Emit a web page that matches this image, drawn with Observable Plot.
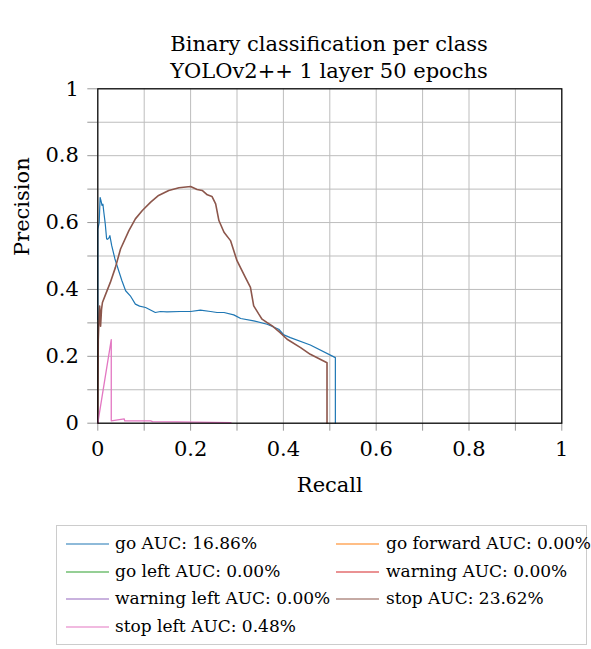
<!DOCTYPE html>
<html>
<head>
<meta charset="utf-8">
<script src="https://cdn.jsdelivr.net/npm/d3@7"></script>
<script src="https://cdn.jsdelivr.net/npm/@observablehq/plot@0.6"></script>
<style>
  body { margin: 0; background: #fff; font-family: "DejaVu Serif", serif; color: #000; }
  #wrap { position: relative; width: 591px; height: 649px; overflow: hidden; }
  #title { position: absolute; left: 97px; width: 464px; top: 31px; text-align: center;
           font-size: 21px; line-height: 27px; }
  #chart { position: absolute; left: 0; top: 60px; }
  #legend { position: absolute; left: 56px; top: 525px; width: 531px; height: 120px;
            border: 1px solid #cccccc; box-sizing: border-box; }
  .lg-sw { position: absolute; }
  .lg-text { position: absolute; font-size: 17px; white-space: nowrap; line-height: 20px; }
</style>
</head>
<body>
<div id="wrap">
  <div id="title"></div>
  <div id="chart"></div>
  <div id="legend"></div>
</div>
<script>
// ---------- data ----------
const titleLines = ["Binary classification per class", "YOLOv2++ 1 layer 50 epochs"];
const xLabel = "Recall";
const yLabel = "Precision";

const majorTicks = [0, 0.2, 0.4, 0.6, 0.8, 1];
const majorTickLabels = ["0", "0.2", "0.4", "0.6", "0.8", "1"];
const minorTicks = [0.1, 0.3, 0.5, 0.7, 0.9];

const seriesNames = ["go", "go forward", "go left", "warning", "warning left", "stop", "stop left"];
const seriesAUC = ["16.86%", "0.00%", "0.00%", "0.00%", "0.00%", "23.62%", "0.48%"];
const seriesColors = ["#1f77b4", "#ff7f0e", "#2ca02c", "#d62728", "#9467bd", "#8c564b", "#e377c2"];

const goRecall    = [0, 0, 0.003, 0.005, 0.007, 0.009, 0.011, 0.013, 0.016, 0.019, 0.021, 0.024, 0.026, 0.030, 0.037, 0.045, 0.052, 0.060, 0.070, 0.081, 0.090, 0.103, 0.124, 0.135, 0.149, 0.178, 0.200, 0.221, 0.243, 0.257, 0.272, 0.293, 0.308, 0.336, 0.365, 0.390, 0.401, 0.415, 0.458, 0.512, 0.512];
const goPrecision = [0.31, 0.58, 0.60, 0.675, 0.665, 0.651, 0.655, 0.631, 0.597, 0.551, 0.550, 0.554, 0.561, 0.531, 0.491, 0.456, 0.426, 0.396, 0.381, 0.356, 0.350, 0.346, 0.331, 0.334, 0.333, 0.334, 0.334, 0.338, 0.334, 0.331, 0.331, 0.324, 0.313, 0.306, 0.296, 0.281, 0.264, 0.256, 0.234, 0.196, 0];

const goForwardRecall = [0];
const goForwardPrecision = [0];
const goLeftRecall = [0];
const goLeftPrecision = [0];
const warningRecall = [0];
const warningPrecision = [0];
const warningLeftRecall = [0];
const warningLeftPrecision = [0];

const stopRecall    = [0, 0.001, 0.003, 0.004, 0.005, 0.006, 0.008, 0.010, 0.017, 0.027, 0.038, 0.049, 0.067, 0.081, 0.096, 0.114, 0.131, 0.153, 0.175, 0.200, 0.214, 0.225, 0.236, 0.246, 0.254, 0.261, 0.272, 0.286, 0.300, 0.318, 0.329, 0.336, 0.347, 0.354, 0.365, 0.376, 0.393, 0.408, 0.437, 0.458, 0.494, 0.494];
const stopPrecision = [0, 0.25, 0.33, 0.35, 0.32, 0.29, 0.34, 0.361, 0.386, 0.421, 0.466, 0.521, 0.576, 0.611, 0.636, 0.661, 0.681, 0.696, 0.704, 0.708, 0.699, 0.696, 0.683, 0.678, 0.656, 0.606, 0.571, 0.546, 0.486, 0.436, 0.406, 0.351, 0.326, 0.311, 0.301, 0.291, 0.271, 0.251, 0.226, 0.206, 0.181, 0];

const stopLeftRecall    = [0, 0.029, 0.029, 0.057, 0.058, 0.114, 0.118, 0.170, 0.287];
const stopLeftPrecision = [0, 0.250, 0.007, 0.013, 0.007, 0.007, 0.005, 0.004, 0.002];

const seriesRecall = [goRecall, goForwardRecall, goLeftRecall, warningRecall, warningLeftRecall, stopRecall, stopLeftRecall];
const seriesPrecision = [goPrecision, goForwardPrecision, goLeftPrecision, warningPrecision, warningLeftPrecision, stopPrecision, stopLeftPrecision];
const seriesWidths = [1.2, 1.5, 1.5, 1.5, 1.5, 1.6, 1.3];

// ---------- build ----------
const rows = [];
seriesNames.forEach((name, i) => {
  seriesRecall[i].forEach((r, j) => rows.push({series: name, recall: r, precision: seriesPrecision[i][j]}));
});

d3.select("#title").selectAll("div").data(titleLines).join("div").text(d => d);

const allTicks = majorTicks.concat(minorTicks);
const fmt = d => { const k = majorTicks.indexOf(d); return k >= 0 ? majorTickLabels[k] : ""; };

const lineMarks = seriesNames.map((name, i) =>
  Plot.line(rows.filter(d => d.series === name), {
    x: "recall", y: "precision", stroke: seriesColors[i], strokeWidth: seriesWidths[i],
    curve: "linear"
  })
);

const chart = Plot.plot({
  width: 591,
  height: 440,
  marginTop: 28.3,
  marginBottom: 77.3,
  marginLeft: 97.3,
  marginRight: 29.7,
  x: {domain: [0, 1]},
  y: {domain: [0, 1]},
  style: {fontFamily: "'DejaVu Serif', serif", fontSize: "21px", color: "#000", background: "transparent", overflow: "visible"},
  marks: [
    Plot.gridX(allTicks, {stroke: "#bdbdbd", strokeOpacity: 1, strokeWidth: 1}),
    Plot.gridY(allTicks, {stroke: "#bdbdbd", strokeOpacity: 1, strokeWidth: 1}),
    Plot.axisX(allTicks, {tickSize: 8, tickPadding: 10, tickFormat: fmt, stroke: "#999", label: null, fontSize: 21}),
    Plot.axisY(allTicks, {tickSize: 10, tickPadding: 9, tickFormat: fmt, stroke: "#999", label: null, fontSize: 21}),
    ...lineMarks,
    Plot.frame({stroke: "#000", strokeWidth: 1.2}),
    Plot.text([xLabel], {frameAnchor: "bottom", dy: 62, text: d => d, fontSize: 21, lineAnchor: "middle"}),
    Plot.text([yLabel], {frameAnchor: "left", dx: -76, text: d => d, fontSize: 21, rotate: -90, lineAnchor: "middle"})
  ]
});
document.getElementById("chart").appendChild(chart);

// legend
const legend = d3.select("#legend");
const rowY = [18, 46, 73, 101];
const colLineX = [9, 279];
const lineLen = 43;
const colTextX = [58, 329];
seriesNames.forEach((name, i) => {
  const col = i % 2, row = Math.floor(i / 2);
  const sw = legend.append("svg").attr("class", "lg-sw")
    .attr("width", lineLen).attr("height", 6)
    .style("left", colLineX[col] + "px").style("top", (rowY[row] - 3) + "px");
  sw.append("line").attr("x1", 0).attr("x2", lineLen).attr("y1", 3).attr("y2", 3)
    .attr("stroke", seriesColors[i]).attr("stroke-width", 1.2);
  legend.append("div").attr("class", "lg-text")
    .style("left", colTextX[col] + "px").style("top", (rowY[row] - 11) + "px")
    .text(`${name} AUC: ${seriesAUC[i]}`);
});
</script>
</body>
</html>
